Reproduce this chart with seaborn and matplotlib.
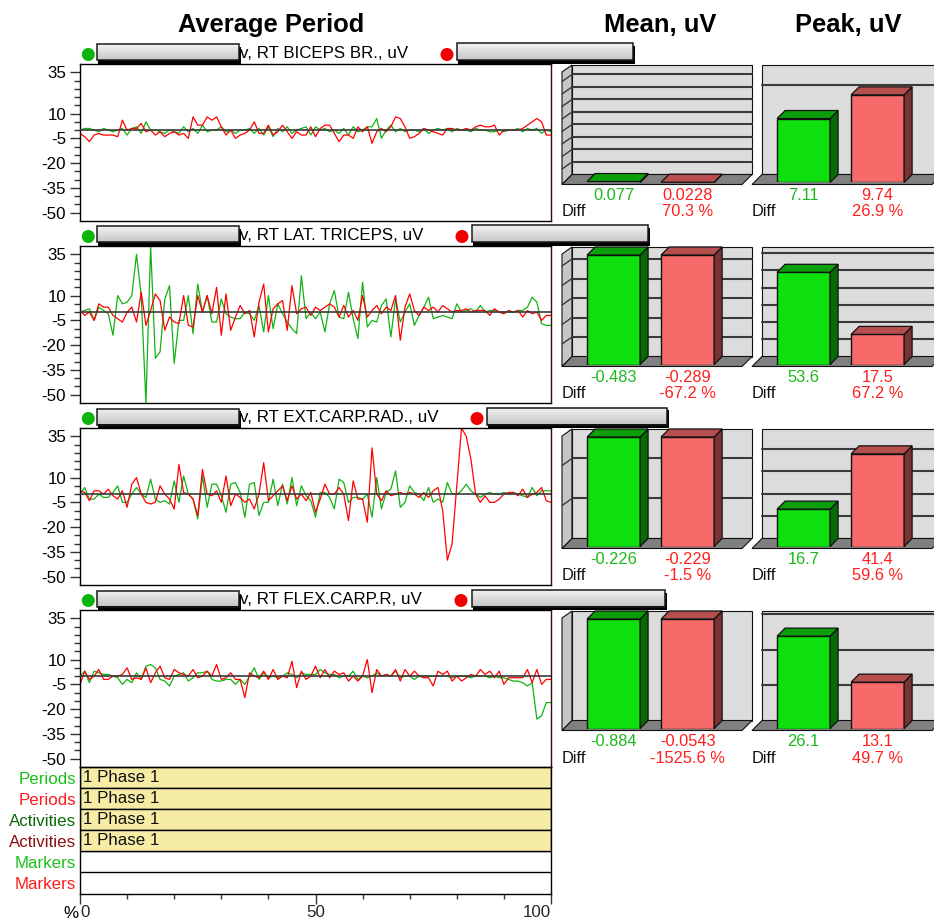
import numpy as np
import pandas as pd
import matplotlib
matplotlib.use('Agg')
import matplotlib.pyplot as plt
import seaborn as sns
from matplotlib.patches import Polygon, Rectangle, Ellipse
from matplotlib.lines import Line2D
from matplotlib import transforms as mtrans

# ---------------- data ----------------
pct = list(range(101))
channel_labels = ["v, RT BICEPS BR., uV", "v, RT LAT. TRICEPS, uV",
                  "v, RT EXT.CARP.RAD., uV", "v, RT FLEX.CARP.R, uV"]

g1 = [0,1,1,0,-1,1,0,-1,0,1, -3,1,2,-2,5,0,0,-1,-2,0, -1,-2,2,-1,1,-2,3,-1,0,0,
      2,-1,0,-2,0,0,1,-2,1,-3, 2,-4,1,-1,2,-2,0,1,2,-3, 2,0,1,-1,0,-2,1,-3,2,-1,
      0,2,2,7,-5,0,3,-1,1,-1, 0,0,-1,1,-2,0,1,0,1,-1, 1,0,0,-1,1,0,0,-1,-1,0,
      -1,0,0,1,-1,1,0,1,-2,0, -1]
r1 = [-2,-4,-7,-3,-2,-3,-3,-3,-4,6, 0,1,1,4,-1,0,-3,-1,-4,-2, -1,-3,-2,-5,8,3,3,8,6,8,
      2,-3,0,-5,-3,-2,0,5,-2,-2, 3,-3,-1,3,-1,-5,-1,-3,-3,2, -4,1,3,3,-2,-7,-3,-3,-5,2,
      -1,2,-8,-1,1,-1,2,8,7,2, -5,-4,-2,1,0,-1,-2,-3,1,1, 0,0,1,0,2,3,2,2,3,-3,
      0,0,0,0,1,3,5,7,5,-3, -3]
g2 = [0,1,2,-5,3,1,-1,-14,10,5, 6,10,35,10,-55,40,-28,-24,8,16, -31,-5,-5,10,-13,17,0,10,-6,-6,
      8,-1,-3,-4,-4,0,-1,-5,4,-12, 10,-10,5,-1,-6,-10,-13,22,-4,0, -4,0,-12,5,13,-3,-4,12,-4,-16,
      18,-9,-5,-6,4,8,-15,8,-6,0, 5,-8,-2,3,9,-4,-3,-2,-3,-4, 5,0,1,2,0,4,0,1,1,0,
      0,0,0,1,1,3,9,6,-7,-8, -8]
r2 = [1,-2,0,-5,5,3,3,-2,-4,-6, 0,3,-6,12,-8,1,11,7,-11,-3, -6,-7,10,-8,-9,10,0,10,-1,15,
      -14,11,-11,-3,4,-1,1,-15,6,17, -12,2,5,7,-11,16,-1,2,3,-2, 3,1,3,5,3,-3,4,-3,1,-5,
      10,-3,1,4,-1,3,1,10,-17,3, 11,1,-2,3,1,3,0,4,2,0, 1,1,2,0,1,1,1,-2,2,0,
      -1,1,0,1,-3,1,-1,0,-5,-2, -2]
g3 = [0,4,-3,-3,0,-2,-2,1,5,-5, -5,0,4,0,-2,9,-3,-5,-4,-6, 8,-5,11,0,-3,-15,11,-8,6,6,
      -1,-11,6,7,1,-14,6,7,-13,-5, -5,9,-7,6,-6,10,-7,5,-1,-4, -14,1,1,-2,-9,9,7,-5,-2,-2,
      -3,0,-14,10,-9,1,3,14,-8,-5, 5,1,0,-4,4,-5,-3,-5,7,0, 0,2,6,2,0,-2,0,1,0,0,
      1,0,1,0,-1,-2,4,-1,2,2, 2]
r3 = [2,1,-4,2,2,0,3,-1,-3,2, -8,6,10,0,-5,-6,-5,5,0,-3, -9,18,1,0,-3,-13,15,0,-1,2,
      -5,11,-7,0,-2,-5,-3,-9,0,19, -4,-1,2,5,-4,5,-3,0,-4,1, -11,-3,6,0,0,4,0,-16,8,-3,
      -3,-17,28,0,-4,2,-1,0,1,0, 1,0,-2,1,-2,2,4,-10,-40,-30, 5,40,35,21,0,-5,-1,-5,-5,-3,
      0,1,1,-1,3,-2,0,1,4,-4, -5]
g4 = [0,3,-4,3,2,1,1,0,-1,-5, -2,-4,2,-2,6,7,5,-2,-3,-6, 0,1,2,-3,-1,2,2,3,-2,-3,
      -3,-2,-2,-5,-2,-5,0,5,-2,2, -1,0,-1,0,2,1,-1,2,1,1, 1,4,2,1,1,-1,0,0,3,-2,
      0,-1,0,2,0,1,0,3,-1,0, 0,-2,0,0,0,0,0,0,0,-1, 0,0,0,-1,0,0,0,-1,0,-1,
      -1,-2,-3,-3,-4,-6,-4,-26,-24,-16, -16]
r4 = [-5,3,-2,0,4,-2,-2,0,0,1, 5,-2,-1,-2,5,-4,2,6,-1,-2, 4,2,1,0,4,-1,0,3,0,7,
      -2,-1,2,-2,-2,-13,2,0,-1,3, -2,4,-2,0,-1,9,-7,3,-2,0, 6,-1,4,-1,3,1,2,-3,0,-3,
      0,10,-10,4,0,1,0,4,-3,4, 0,3,0,-1,-1,-6,3,1,3,-3, 0,-3,-1,1,0,4,1,3,-1,3,
      -5,-1,-1,-1,-1,4,-4,4,-5,-2, -2]
green_series = [g1, g2, g3, g4]
red_series = [r1, r2, r3, r4]

mean_green = [0.077, -0.483, -0.226, -0.884]
mean_red = [0.0228, -0.289, -0.229, -0.0543]
mean_diff = [70.3, -67.2, -1.5, -1525.6]
peak_green = [7.11, 53.6, 16.7, 26.1]
peak_red = [9.74, 17.5, 41.4, 13.1]
peak_diff = [26.9, 67.2, 59.6, 49.7]

yticks_line = [35, 10, -5, -20, -35, -50]
table_rows = ["Periods", "Periods", "Activities", "Activities", "Markers", "Markers"]
phase_labels = ["1 Phase 1", "1 Phase 1", "1 Phase 1", "1 Phase 1"]
phase_start = [0, 0, 0, 0]
phase_end = [100, 100, 100, 100]
xticks_pct = [0, 50, 100]

# ---------------- style / layout ----------------
mean_ytop = [9.4, 0.3013, 0.235, 0.0494]
mean_step = [1, 0.05, 0.08, 0.1]
peak_ytop = [13.06, 68.3, 52.5, 33.2]
peak_step = [10, 10, 10, 10]

W, H = 934, 922
sns.set_theme(style='white')
plt.rcParams['font.family'] = ['Liberation Sans', 'DejaVu Sans']
plt.rcParams['savefig.dpi'] = 100

GREEN_L = '#12b212'
RED_L = '#ff0000'
GREEN_T = '#1db81d'
RED_T = '#ff1f1f'

fig = plt.figure(figsize=(W / 100, H / 100), dpi=100)


def P(x, y):
    return (x / W, 1 - y / H)


def rect_ax(x0, y0, x1, y1):
    return fig.add_axes([x0 / W, 1 - y1 / H, (x1 - x0) / W, (y1 - y0) / H])


# titles
for txt, xc in [("Average Period", 271), ("Mean, uV", 660), ("Peak, uV", 848)]:
    fig.text(*P(xc, 25), txt, ha='center', va='center', fontsize=18.4,
             fontweight='bold', color='black')

row_tops = [64, 246, 428, 610]
red_dot_x = [447, 462, 477, 461]
red_box = [(457, 633), (472, 648), (487, 667), (472, 665)]


def gray_box(x0, x1, y0, y1):
    # shadow below the box
    fig.patches.append(Rectangle(P(x0 + 1, y1 + 3.5), (x1 - x0 + 1) / W, (y1 - y0) / H,
                                 transform=fig.transFigure, facecolor='black',
                                 edgecolor='none', zorder=-1))
    h = int(y1 - y0)
    w = int(x1 - x0)
    grad = np.linspace(0.95, 0.78, h)
    arr = np.repeat(np.repeat(grad[:, None], w, axis=1)[:, :, None], 3, axis=2)
    fig.figimage(arr, xo=x0, yo=H - y1, origin='upper', zorder=1)
    fig.patches.append(Rectangle(P(x0, y1), w / W, h / H, transform=fig.transFigure,
                                 facecolor='none', edgecolor='#1a1a1a', lw=1.1, zorder=2))


# ---------------- line panels ----------------
for r, T in enumerate(row_tops):
    ax = rect_ax(80, T, 551, T + 157)
    df = pd.DataFrame({
        'pct': pct + pct,
        'uV': green_series[r] + red_series[r],
        'side': ['L'] * len(pct) + ['R'] * len(pct),
    })
    sns.lineplot(data=df, x='pct', y='uV', hue='side', hue_order=['L', 'R'],
                 palette={'L': GREEN_L, 'R': RED_L}, estimator=None,
                 linewidth=0.9, ax=ax, legend=False)
    ax.axhline(0, color='#3a3a3a', lw=1.2, zorder=4)
    ax.set_xlim(0, 100)
    ax.set_ylim(-55, 40)
    ax.set_xticks([])
    ax.set_yticks(yticks_line)
    ax.set_yticks(np.arange(-50, 36, 5), minor=True)
    ax.set_yticklabels([str(v) for v in yticks_line])
    ax.tick_params(axis='y', which='major', left=True, length=7, width=1, pad=3,
                   labelsize=12.2, color='#333333', labelcolor='black')
    ax.tick_params(axis='y', which='minor', left=True, length=4, width=1, color='#333333')
    ax.set_xlabel('')
    ax.set_ylabel('')
    for s in ax.spines.values():
        s.set_color('black')
        s.set_linewidth(1.0)
    ax.spines['right'].set_color('#3a0a0a')

    # header
    fig.patches.append(Ellipse(P(88.3, T - 9.5), 13 / W, 13 / H, transform=fig.transFigure,
                               facecolor='#0cb40c', edgecolor='none', zorder=2))
    fig.patches.append(Ellipse(P(red_dot_x[r], T - 9.5), 13 / W, 13 / H,
                               transform=fig.transFigure,
                               facecolor='#f00000', edgecolor='none', zorder=2))
    gray_box(97, 239, T - 20, T - 3.5)
    gray_box(red_box[r][0], red_box[r][1], T - 21, T - 3.5)
    fig.text(*P(240, T - 11), channel_labels[r], ha='left', va='center',
             fontsize=12.2, color='black')


# ---------------- 3D bar panels ----------------
BAR_W = 0.716
FRONT = ['#0ee00e', '#f76a6a']
SIDE = ['#056b05', '#7a3333']
TOP = ['#0a9f0a', '#b84f4f']
DEPTH = 8


def bar_panel(T, kind, vals, ytop, step, clip):
    WT = T + 1
    FF = T + 120.5
    FB = FF - 10
    BASE = FF - 2
    if kind == 'mean':
        xl, wl, wr = 562, 572, 752
    else:
        xl, wl, wr = 752, 762, 942
    ax = rect_ax(xl, WT, xl + 190, BASE)
    ax.set_xlim(-0.697, 1.870)
    ax.set_ylim(0, ytop)
    ax.axis('off')
    tf = fig.transFigure

    def poly(pts, fc, z, lw=0.8):
        ax.add_patch(Polygon([P(x, y) for x, y in pts], closed=True, transform=tf,
                             facecolor=fc, edgecolor='#111111', lw=lw, zorder=z,
                             clip_on=False))

    if kind == 'mean':
        poly([(xl, FF), (xl, WT + 7), (wl, WT), (wl, FB)], '#c6c6c6', 1)
    poly([(wl, WT), (wr, WT), (wr, FB), (wl, FB)], '#dcdcdc', 1)
    poly([(xl, FF), (wr - 10, FF), (wr, FB), (wl, FB)], '#808080', 1.5)

    heights = np.abs(np.array(vals, dtype=float))
    if clip:
        heights = np.minimum(heights, ytop * (BASE - WT - DEPTH) / (BASE - WT))
    v = step
    while True:
        yd = ax.transData.transform((0, v))[1] + DEPTH
        ypx = H - yd
        if ypx <= WT + 1.5:
            break
        ax.add_line(Line2D([wl / W, wr / W], [1 - ypx / H] * 2, transform=tf,
                           color='#3a3a3a', lw=1.5, zorder=2, clip_on=False))
        if kind == 'mean':
            ax.add_line(Line2D([xl / W, wl / W], [1 - (ypx + 7) / H, 1 - ypx / H],
                               transform=tf, color='#3a3a3a', lw=1.0, zorder=2,
                               clip_on=False))
        v += step

    ax.bar([0, 1], heights, width=BAR_W, color=FRONT, edgecolor='#111111',
           linewidth=1.0, zorder=3)
    fw, fh = fig.bbox.width, fig.bbox.height
    for i, h in enumerate(heights):
        x0, x1 = i - BAR_W / 2, i + BAR_W / 2
        BR = ax.transData.transform((x1, 0))
        TR = ax.transData.transform((x1, h))
        TL = ax.transData.transform((x0, h))
        d = np.array([DEPTH, DEPTH])
        top = [TL, TR, TR + d, TL + d]
        side = [BR, TR, TR + d, BR + d]
        for pts, fc in [(side, SIDE[i]), (top, TOP[i])]:
            ax.add_patch(Polygon([(p[0] / fw, p[1] / fh) for p in pts], closed=True,
                                 transform=tf, facecolor=fc, edgecolor='#111111',
                                 lw=0.9, zorder=4, clip_on=False))
    return ax, xl


for r, T in enumerate(row_tops):
    for kind, vg, vr, ytop, step, dif in [
            ('mean', mean_green[r], mean_red[r], mean_ytop[r], mean_step[r], mean_diff[r]),
            ('peak', peak_green[r], peak_red[r], peak_ytop[r], peak_step[r], peak_diff[r])]:
        ax, xl = bar_panel(T, kind, [vg, vr], ytop, step, clip=(kind == 'mean'))
        bt = mtrans.blended_transform_factory(ax.transData, fig.transFigure)
        ax.text(0, 1 - (T + 131) / H, f"{vg:g}", transform=bt, ha='center', va='center',
                fontsize=11.8, color=GREEN_T, clip_on=False)
        ax.text(1, 1 - (T + 131) / H, f"{vr:g}", transform=bt, ha='center', va='center',
                fontsize=11.8, color=RED_T, clip_on=False)
        ax.text(1, 1 - (T + 148) / H, f"{dif:.1f} %", transform=bt, ha='center',
                va='center', fontsize=11.8, color=RED_T, clip_on=False)
        fig.text(*P(xl, T + 148), "Diff", ha='left', va='center', fontsize=11.8,
                 color='#111111')

# ---------------- table + x axis ----------------
n_rows = len(table_rows)
tax = rect_ax(80, 767, 551, 893.5)
ypos = np.arange(len(phase_labels)) + 0.5
tax.barh(ypos, [e - s for s, e in zip(phase_start, phase_end)], left=phase_start,
         height=1, color='#f6eca6', edgecolor='black', linewidth=1.0, zorder=2)
for y, s, lab in zip(ypos, phase_start, phase_labels):
    tax.text(s + 0.6, y, lab, ha='left', va='center', fontsize=12.2,
             color='#111111', zorder=3)
for i in range(1, n_rows):
    tax.axhline(i, color='black', lw=1.0, zorder=1)
tax.set_xlim(0, 100)
tax.set_ylim(n_rows, 0)
tax.set_yticks(np.arange(n_rows) + 0.5)
tax.set_yticklabels(table_rows)
row_cols = ['#1cbf1c', '#ff1c1c', '#0a6a0a', '#8b1010', '#1cbf1c', '#ff1c1c']
for lab, c in zip(tax.get_yticklabels(), row_cols):
    lab.set_color(c)
tax.tick_params(axis='y', length=0, pad=3, labelsize=12.2)
tax.set_xticks(xticks_pct)
tax.set_xticklabels([str(v) for v in xticks_pct])
tax.set_xticks(np.arange(0, 101, 10), minor=True)
tax.tick_params(axis='x', which='major', bottom=True, length=7, width=1,
                color='#333333', labelsize=12.2, pad=1)
tax.tick_params(axis='x', which='minor', bottom=True, length=3.5, width=1,
                color='#333333')
xl_labels = tax.get_xticklabels()
xl_labels[0].set_ha('left')
xl_labels[-1].set_ha('right')
xl_labels[0].set_x(-0.4)
for s in tax.spines.values():
    s.set_color('black')
    s.set_linewidth(1.0)
tax.set_xlabel('')
tax.set_ylabel('')
fig.text(*P(78.5, 913), '%', ha='right', va='center', fontsize=12.2, color='black')

fig.savefig('out.png', dpi=100)
